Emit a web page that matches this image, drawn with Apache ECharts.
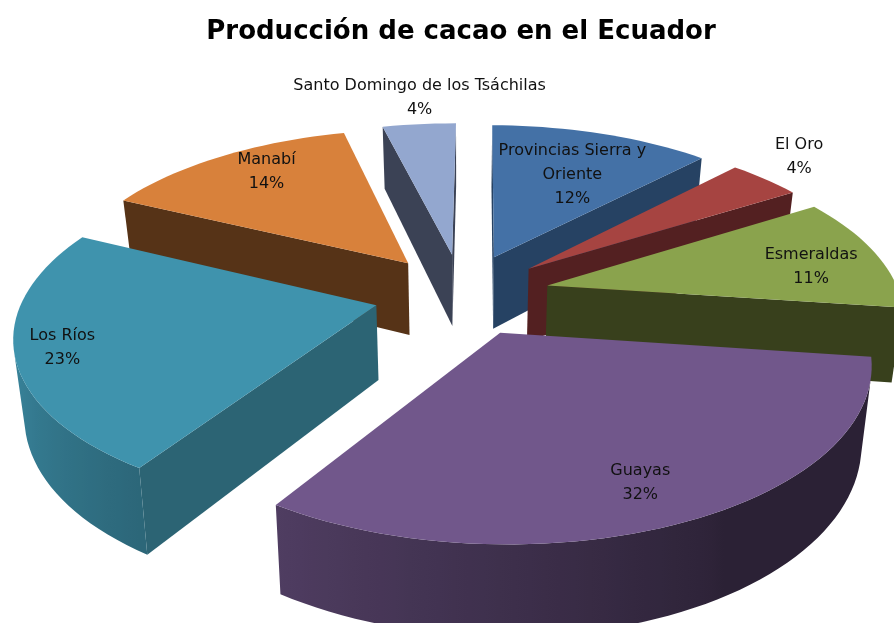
<!DOCTYPE html>
<html>
<head>
<meta charset="utf-8">
<style>html,body{margin:0;padding:0;background:#fff}#chart{width:894px;height:623px}</style>
<script src="https://cdn.jsdelivr.net/npm/echarts@6/dist/echarts.min.js"></script>
</head>
<body>
<div id="chart"></div>
<script>
// Production share per province, clockwise from twelve o'clock
const categories = ['Provincias Sierra y\nOriente', 'El Oro', 'Esmeraldas', 'Guayas', 'Los Ríos', 'Manabí', 'Santo Domingo de los Tsáchilas'];
const shares = [12, 4, 11, 32, 23, 14, 4];
const topColors = ['#4471A6', '#A64441', '#8AA34D', '#71578B', '#3F93AD', '#D8813B', '#93A7CF'];
const wallColors = ['#264263', '#532021', '#38401C', '#38294A', '#2C6474', '#563317', '#3B4255'];

// Where each label sits: fraction of the radius along the slice's mid angle, then a pixel nudge
const labelRadius = [0.75, 1.15, 0.85, 0.8, 0.88, 0.75, 1.35];
const labelNudge = [[-5, 13], [2, -10], [-16, 9], [-4, 4], [3, 1], [2, -9], [10, 12]];

// Camera and solid: perspective plane plus a fixed extrusion
const view = { cx: 462, cy: 294, rx: 352, ry: 164, persp: 0.16, depth: 74, taper: 0.975, explode: 0.25, firstAngle: 0.5 };
const total = shares.reduce((a, b) => a + b, 0);

const slices = [];
let running = 0;
const startRad = view.firstAngle * Math.PI / 180;
shares.forEach((s, i) => {
  const a0 = startRad + running / total * Math.PI * 2;
  running += s;
  const a1 = startRad + running / total * Math.PI * 2;
  const mid = (a0 + a1) / 2;
  slices.push({
    i, a0, a1, mid,
    tu: view.explode * Math.sin(mid),
    tv: -view.explode * Math.cos(mid)
  });
});

// Pie plane to screen: u to the right, v toward the viewer
function project(u, v) {
  const w = 1 - view.persp * v;
  return { x: view.cx + view.rx * u / w, y: view.cy + view.ry * v / w, w };
}
function extrude(p) {
  return { x: view.cx + (p.x - view.cx) * view.taper, y: p.y + view.depth / p.w, w: p.w };
}
function shoelace(q) {
  let s = 0;
  q.forEach((p, k) => {
    const n = q[(k + 1) % q.length];
    s += p.x * n.y - n.x * p.y;
  });
  return s;
}
function mult(hex, f) {
  const n = parseInt(hex.slice(1), 16);
  const c = [n >> 16, (n >> 8) & 255, n & 255].map(v => Math.round(v * f));
  return 'rgb(' + c.join(',') + ')';
}
// Light falloff on the curved rim as a function of its facing angle (degrees clockwise from top)
function rimShade(deg) {
  if (deg <= 150) return 0.38;
  if (deg >= 265) return 0.95;
  return 0.4 + (deg - 150) / 115 * 0.55;
}
function poly(q, fill) {
  return {
    type: 'polygon',
    shape: { points: q.map(p => [p.x, p.y]) },
    style: { fill }
  };
}

function renderSlice(params, api) {
  const s = slices[api.value(0)];
  const kids = [];
  const tip = project(s.tu, s.tv);
  const rim = [];
  const steps = Math.max(2, Math.round((s.a1 - s.a0) / (Math.PI / 90)));
  for (let k = 0; k <= steps; k++) {
    const a = s.a0 + (s.a1 - s.a0) * k / steps;
    rim.push(Object.assign(project(s.tu + Math.sin(a), s.tv - Math.cos(a)), { a }));
  }
  const flat = (a, b) => {
    const q = [a, b, extrude(b), extrude(a)];
    if (shoelace(q) < 0) kids.push(poly(q, wallColors[s.i]));
  };
  flat(tip, rim[0]);
  flat(rim[rim.length - 1], tip);

  // The part of the curved rim that faces the viewer, shaded left to right
  const front = rim.filter((p, k) => {
    const n = rim[k + 1] || p;
    const m = rim[k - 1] || p;
    return shoelace([p, n, extrude(n), extrude(p)]) < 0 || shoelace([m, p, extrude(p), extrude(m)]) < 0;
  });
  if (front.length > 1) {
    const xs = front.map(p => p.x);
    const x0 = Math.min(...xs), x1 = Math.max(...xs);
    const stops = front
      .map(p => ({ offset: (p.x - x0) / Math.max(1, x1 - x0), color: mult(topColors[s.i], rimShade(p.a * 180 / Math.PI)) }))
      .sort((a, b) => a.offset - b.offset);
    const outline = front.concat(front.slice().reverse().map(extrude));
    kids.push(poly(outline, new echarts.graphic.LinearGradient(x0, 0, x1, 0, stops, true)));
  }
  kids.push(poly([tip].concat(rim), topColors[s.i]));

  const r = labelRadius[s.i];
  const at = project(s.tu + r * Math.sin(s.mid), s.tv - r * Math.cos(s.mid));
  kids.push({
    type: 'text',
    style: {
      x: at.x + labelNudge[s.i][0], y: at.y + labelNudge[s.i][1],
      text: categories[s.i] + '\n' + shares[s.i] + '%',
      fill: '#111', align: 'center', verticalAlign: 'middle',
      font: '16px "DejaVu Sans"', lineHeight: 24
    }
  });
  return { type: 'group', children: kids };
}

// Paint far slices first so nearer ones overlap them
const paintOrder = slices.slice().sort((a, b) => a.tv - b.tv).map(s => [s.i]);

const chart = echarts.init(document.getElementById('chart'), null, { renderer: 'canvas' });
chart.setOption({
  animation: false,
  backgroundColor: '#fff',
  title: {
    text: 'Producción de cacao en el Ecuador',
    left: 456, top: 14, textAlign: 'center',
    textStyle: { fontFamily: 'DejaVu Sans', fontWeight: 'bold', fontSize: 26, color: '#000' }
  },
  series: [{
    type: 'custom',
    coordinateSystem: 'none',
    silent: true,
    renderItem: renderSlice,
    data: paintOrder
  }]
});
</script>
</body>
</html>
